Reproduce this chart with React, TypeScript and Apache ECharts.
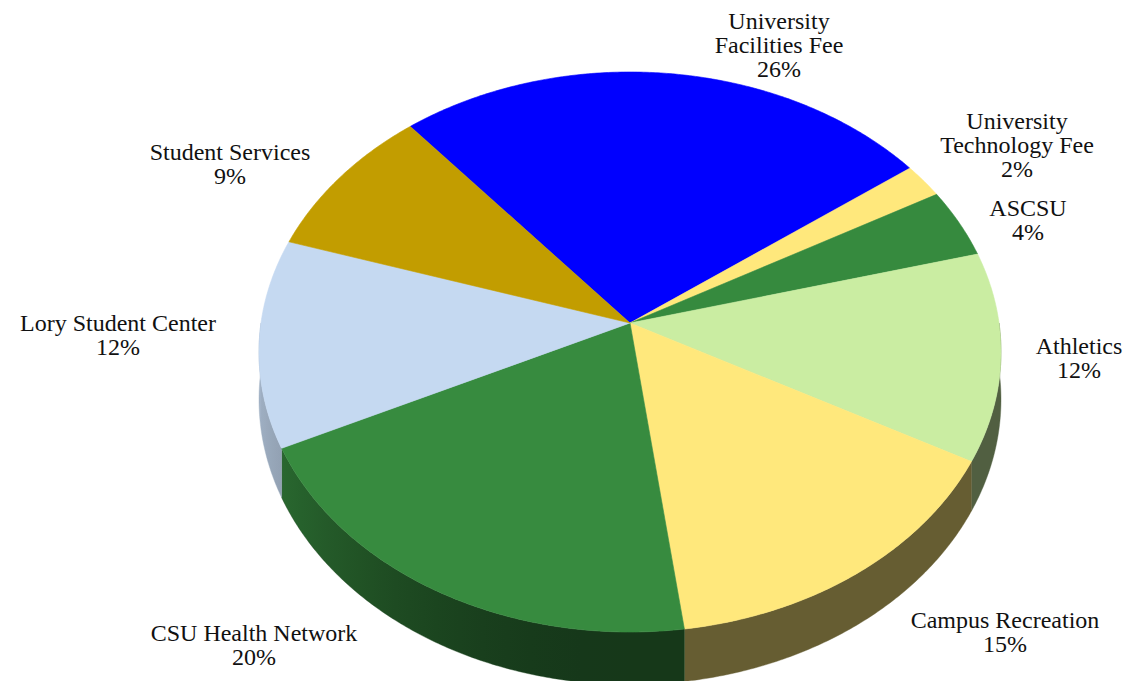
import React, { useEffect, useRef } from "react";
import * as echarts from "echarts";

// ---- data ----
const categories = [
  "University\nFacilities Fee",
  "University\nTechnology Fee",
  "ASCSU",
  "Athletics",
  "Campus Recreation",
  "CSU Health Network",
  "Lory Student Center",
  "Student Services",
];
const shares = [26, 2, 4, 12, 15, 20, 12, 9];

// ---- styles / layout ----
const sliceColors = ["#0000FF", "#FFE87C", "#368A3E", "#CAEDA2", "#FFE87C", "#378B3F", "#C5D9F1", "#C29D00"];
const labelAnchors = [
  [779, 45],
  [1017, 145],
  [1028, 220],
  [1079, 358],
  [1005, 632],
  [254, 645],
  [118, 335],
  [230, 164],
];
const START_ANGLE = 130; // degrees, clockwise from here
const PERSPECTIVE = 0.1036;
const DEPTH = 0.17; // side height in y-axis units

function hexToRgb(h: string) {
  const n = parseInt(h.slice(1), 16);
  return [(n >> 16) & 255, (n >> 8) & 255, n & 255];
}
function shade(h: string, f: number) {
  const [r, g, b] = hexToRgb(h);
  return `rgb(${Math.round(r * f)},${Math.round(g * f)},${Math.round(b * f)})`;
}
function light(tDeg: number) {
  const c = Math.max(0, -Math.cos((tDeg * Math.PI) / 180));
  return 0.4 + 0.42 * c * c;
}

function rim(api: any, tDeg: number, drop: number) {
  const t = (tDeg * Math.PI) / 180;
  const u = Math.cos(t);
  const v = -Math.sin(t);
  const w = 1 / (1 - PERSPECTIVE * v);
  return api.coord([u * w, -(v * w) - drop * w]);
}

const cumStarts: number[] = [];
{
  let acc = 0;
  shares.forEach((s) => {
    cumStarts.push(acc);
    acc += s;
  });
}
const total = shares.reduce((a, b) => a + b, 0);
const seriesData = shares.map((s, i) => [0, 0, cumStarts[i], s]);

function angles(api: any) {
  const st = api.value(2) as number;
  const val = api.value(3) as number;
  const a1 = START_ANGLE - (st / total) * 360;
  const a2 = START_ANGLE - ((st + val) / total) * 360;
  return [a1, a2];
}

function renderTop(params: any, api: any) {
  const i = params.dataIndex;
  const [a1, a2] = angles(api);
  const pts: number[][] = [api.coord([0, 0])];
  const n = Math.max(2, Math.ceil((a1 - a2) / 0.5));
  for (let j = 0; j <= n; j++) {
    pts.push(rim(api, a1 - ((a1 - a2) * j) / n, 0));
  }
  const col = sliceColors[i];
  return {
    type: "polygon",
    shape: { points: pts },
    style: { fill: col, stroke: col, lineWidth: 0.6 },
  };
}

function renderSide(params: any, api: any) {
  const i = params.dataIndex;
  const [a1, a2] = angles(api);
  const lo = Math.max(a2, -180);
  const hi = Math.min(a1, 0);
  if (lo >= hi) return null;
  const n = Math.max(2, Math.ceil((hi - lo) / 0.5));
  const top: number[][] = [];
  const bot: number[][] = [];
  for (let j = 0; j <= n; j++) {
    const t = hi - ((hi - lo) * j) / n;
    top.push(rim(api, t, 0));
    bot.push(rim(api, t, DEPTH));
  }
  const pts = top.concat(bot.reverse());
  const col = sliceColors[i];
  const x0 = rim(api, lo, 0)[0];
  const x1 = rim(api, hi, 0)[0];
  const stops: any[] = [];
  const m = 10;
  for (let j = 0; j <= m; j++) {
    const t = lo + ((hi - lo) * j) / m;
    const x = rim(api, t, 0)[0];
    let off = x1 - x0 > 0.5 ? (x - x0) / (x1 - x0) : j / m;
    off = Math.min(1, Math.max(0, off));
    if (stops.length && off < stops[stops.length - 1].offset) off = stops[stops.length - 1].offset;
    stops.push({ offset: off, color: shade(col, light(t)) });
  }
  const fill = new echarts.graphic.LinearGradient(x0, 0, Math.max(x1, x0 + 1), 0, stops, true);
  return {
    type: "polygon",
    shape: { points: pts },
    style: { fill, stroke: shade(col, light((lo + hi) / 2)), lineWidth: 0.4 },
  };
}

export default function App() {
  const ref = useRef<HTMLDivElement>(null);
  useEffect(() => {
    if (!ref.current) return;
    const chart = echarts.init(ref.current, null, { renderer: "svg" });
    chart.setOption({
      animation: false,
      backgroundColor: "#ffffff",
      grid: { left: 261, top: 46, width: 738, height: 554 },
      xAxis: { type: "value", min: -1, max: 1, show: false },
      yAxis: { type: "value", min: -1, max: 1, show: false },
      series: [
        {
          type: "custom",
          name: "sides",
          coordinateSystem: "cartesian2d",
          clip: false,
          silent: true,
          encode: { x: 0, y: 1 },
          data: seriesData,
          renderItem: renderSide,
        },
        {
          type: "custom",
          name: "tops",
          coordinateSystem: "cartesian2d",
          clip: false,
          silent: true,
          encode: { x: 0, y: 1 },
          data: seriesData,
          renderItem: renderTop,
        },
      ],
      graphic: categories.map((c, i) => ({
        type: "text",
        x: labelAnchors[i][0],
        y: labelAnchors[i][1],
        style: {
          text: `${c}\n${Math.round((shares[i] / total) * 100)}%`,
          font: "24px 'Liberation Serif', serif",
          fill: "#111111",
          align: "center",
          verticalAlign: "middle",
          lineHeight: 24,
        },
      })),
    });
    return () => chart.dispose();
  }, []);
  return (
    <div
      ref={ref}
      style={{ position: "fixed", left: 0, top: 0, width: 1128, height: 681, background: "#fff" }}
    />
  );
}
